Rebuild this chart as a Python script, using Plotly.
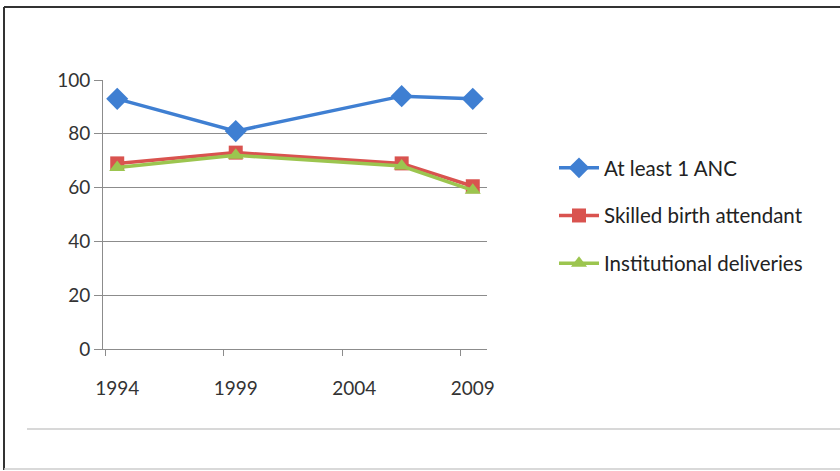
import plotly.graph_objects as go

years = [1994, 1999, 2006, 2009]
anc = [93, 81, 94, 93]
sba = [69, 73, 69, 60.5]
inst = [67.5, 72, 68, 59]
series_names = ["At least 1 ANC", "Skilled birth attendant", "Institutional deliveries"]
tick_years = [1994, 1999, 2004, 2009]
y_ticks = [0, 20, 40, 60, 80, 100]

colors = ["#3f7fd2", "#d9534f", "#9cc54f"]
symbols = ["diamond", "square", "triangle-up"]
sizes = [17, 14, 14]

W, H = 840, 471
L, R, T, B = 103, 487, 80, 349

fig = go.Figure()
for i, (name, vals) in enumerate(zip(series_names, [anc, sba, inst])):
    fig.add_trace(go.Scatter(
        x=years, y=vals, name=name, mode="lines+markers",
        line=dict(color=colors[i], width=3.5),
        marker=dict(symbol=symbols[i], size=sizes[i], color=colors[i]),
        legendgroup=f"g{i}",
    ))

def px_x(px):
    return (px - L) / (R - L)

def px_y(py):
    return (B - py) / (B - T)

shapes = [
    dict(type="line", xref="paper", yref="paper", x0=px_x(4), x1=px_x(845), y0=px_y(7), y1=px_y(7),
         line=dict(color="#333333", width=2)),
    dict(type="line", xref="paper", yref="paper", x0=px_x(4), x1=px_x(4), y0=px_y(7), y1=px_y(470),
         line=dict(color="#333333", width=2)),
    dict(type="line", xref="paper", yref="paper", x0=px_x(4), x1=px_x(845), y0=px_y(469), y1=px_y(469),
         line=dict(color="#cccccc", width=1.5)),
    dict(type="line", xref="paper", yref="paper", x0=px_x(27), x1=px_x(845), y0=px_y(429), y1=px_y(429),
         line=dict(color="#d8d8d8", width=2)),
]

fig.update_layout(
    width=W, height=H,
    margin=dict(l=L, r=W - R, t=T, b=H - B),
    paper_bgcolor="white", plot_bgcolor="white",
    font=dict(family="Lato, Open Sans, sans-serif", size=19, color="#333333"),
    showlegend=True,
    legend=dict(x=px_x(554), y=px_y(148), xanchor="left", yanchor="top",
                font=dict(size=20.5, color="#222222"), tracegroupgap=18,
                itemwidth=40, bgcolor="rgba(0,0,0,0)"),
    shapes=shapes,
    xaxis=dict(range=[1993.4, 2009.6], tickvals=tick_years, ticks="",
               ticklabelstandoff=22,
               showgrid=False, zeroline=False, showline=True,
               linecolor="#8c8c8c", linewidth=1,
               minor=dict(tickvals=[y - 0.5 for y in tick_years], ticks="outside",
                          ticklen=6, tickcolor="#8c8c8c", showgrid=False),
               tickfont=dict(size=19, color="#333333")),
    yaxis=dict(range=[0, 100], tickvals=y_ticks, ticks="outside", ticklen=8,
               tickcolor="#8c8c8c", showgrid=True, gridcolor="#8c8c8c", gridwidth=1,
               zeroline=False, showline=True, linecolor="#8c8c8c", linewidth=1,
               tickfont=dict(size=19, color="#333333")),
)

fig.write_html("out.html", config={"displayModeBar": False},
               post_script="document.body.style.margin='0';")
